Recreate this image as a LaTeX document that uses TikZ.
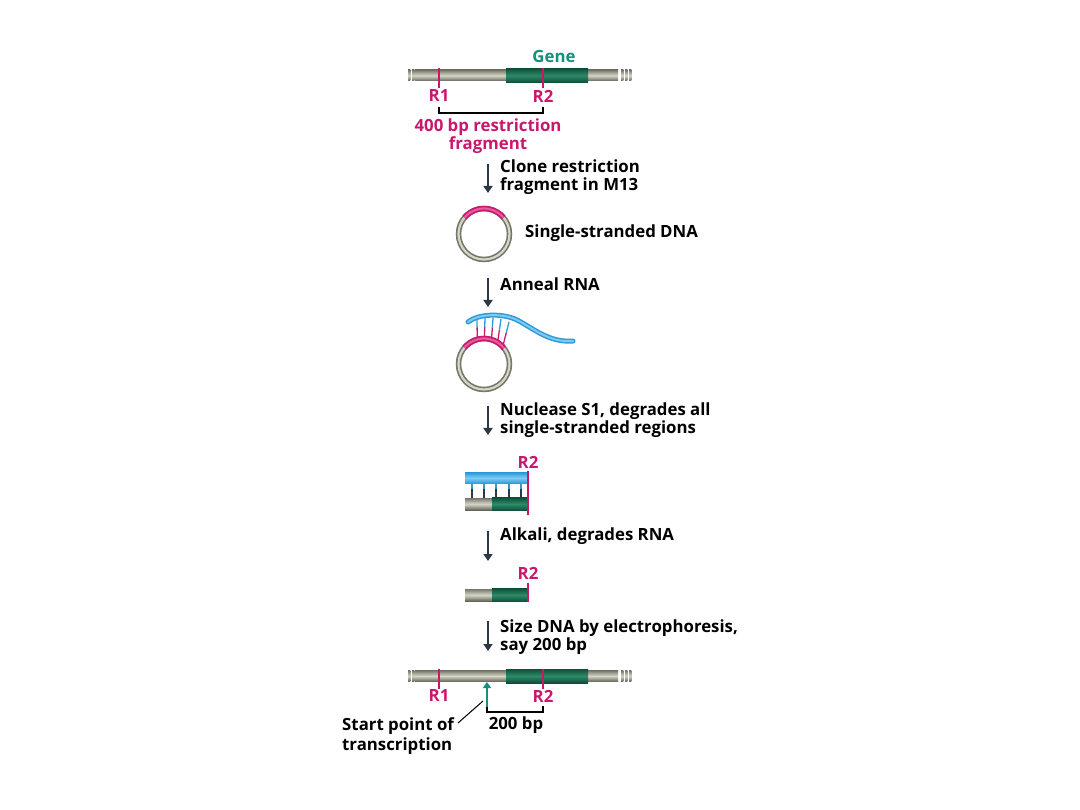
\documentclass[tikz,border=0pt]{standalone}
\usepackage{fontspec}
\setmainfont{Open Sans}
\usetikzlibrary{arrows.meta,calc}

\definecolor{site}{HTML}{C8186E}
\definecolor{sitelt}{HTML}{E45A9C}
\definecolor{genetxt}{HTML}{13917A}
\definecolor{genedk}{HTML}{0E4F3A}
\definecolor{genemd}{HTML}{2E8A68}
\definecolor{dnadk}{HTML}{76766A}
\definecolor{dnalt}{HTML}{D6D6C8}
\definecolor{rnadk}{HTML}{2E9AD8}
\definecolor{rnalt}{HTML}{7CCBF2}
\definecolor{arrowc}{HTML}{2B3845}

\begin{document}
\begin{tikzpicture}[
  x=1pt, y=-1pt,
  lab/.style={font=\bfseries\fontsize{16.8}{18}\selectfont, inner sep=0pt},
  note/.style={lab, anchor=west, align=left},
  sitelab/.style={lab, text=site},
  dna/.style={top color=dnadk, bottom color=dnadk!85!black, middle color=dnalt, shading angle=0},
  gene/.style={top color=genedk, bottom color=genedk, middle color=genemd},
  rna/.style={top color=rnadk, bottom color=rnadk, middle color=rnalt},
  cut/.style={draw=site, line width=1.3pt},
  brace/.style={draw=black, line width=1.4pt},
  flow/.style={draw=arrowc, line width=2.8pt, -{Triangle[length=7pt,width=9pt]}},
  bond/.style={line width=1.3pt}
]
\useasboundingbox (0,0) rectangle (1080,810);

% ---- gene map (top)
\foreach \xa in {408,412} \fill[dna] (\xa,70) rectangle ++(2.4,11);
\foreach \xa in {621,625,629} \fill[dna] (\xa,70) rectangle ++(2.4,11);
\fill[dna] (415,70) rectangle (618,81);
\fill[gene] (506,68.5) rectangle (588,82.5);
\draw[cut] (439,68) -- (439,88);
\draw[cut] (543,68) -- (543,88);
\node[lab, text=genetxt] (gene) at (554,57) {Gene};
\node[sitelab] (r1top) at (439,96) {R1};
\node[sitelab] (r2top) at (543,96) {R2};
\draw[brace] (439,107) -- (439,113) -- (543,113) -- (543,107);
\node[sitelab, align=center] (frag) at (488,136) {400 bp restriction\\fragment};

% ---- step 1
\coordinate (s1a) at (488,164);
\coordinate (s1b) at (488,193);
\draw[flow] (s1a) -- (s1b);
\node[note] (clone) at (500,177) {Clone restriction\\fragment in M13};

% single-stranded circle
\coordinate (c1) at (484,234);
\draw[dnadk, line width=5.5pt] (c1) circle (25.5);
\draw[dnalt, line width=2.2pt] (c1) circle (25.5);
\draw[site, line width=5.5pt] ([shift={(-140:25.5)}]c1) arc[start angle=-140, end angle=-40, radius=25.5];
\draw[sitelt, line width=2.2pt] ([shift={(-140:25.5)}]c1) arc[start angle=-140, end angle=-40, radius=25.5];
\node[note] (ssdna) at (525,233) {Single-stranded DNA};

% ---- step 2
\coordinate (s2a) at (488,278);
\coordinate (s2b) at (488,307);
\draw[flow] (s2a) -- (s2b);
\node[note] (anneal) at (500,284) {Anneal RNA};

% annealed circle
\coordinate (c2) at (484,364);
\draw[dnadk, line width=5.5pt] (c2) circle (25.5);
\draw[dnalt, line width=2.2pt] (c2) circle (25.5);
\draw[site, line width=5.5pt] ([shift={(-140:25.5)}]c2) arc[start angle=-140, end angle=-38, radius=25.5];
\draw[sitelt, line width=2.2pt] ([shift={(-140:25.5)}]c2) arc[start angle=-140, end angle=-38, radius=25.5];
\foreach \ang/\xt/\yt in {-104/477/319, -89/485/318, -74/493/318, -60/501/319, -46/509/322} {
  \coordinate (lo) at ($(c2)+(\ang:28)$);
  \coordinate (hi) at (\xt,\yt);
  \draw[site, bond] (lo) -- ($(lo)!0.5!(hi)$);
  \draw[rnadk, bond] ($(lo)!0.5!(hi)$) -- (hi);
}
\draw[rnadk, line width=5pt, line cap=round]
  (468,322) .. controls (478,314) and (500,313) .. (515,319)
  .. controls (532,327) and (548,343) .. (573,341);
\draw[rnalt, line width=2pt, line cap=round]
  (468,322) .. controls (478,314) and (500,313) .. (515,319)
  .. controls (532,327) and (548,343) .. (573,341);

% ---- step 3
\coordinate (s3a) at (488,406);
\coordinate (s3b) at (488,435);
\draw[flow] (s3a) -- (s3b);
\node[note] (nuclease) at (500,420) {Nuclease S1, degrades all\\single-stranded regions};

% hybrid
\fill[rna] (465,472.5) rectangle (528,483.5);
\foreach \xt in {472,484,496,509,521} {
  \draw[arrowc, bond] (\xt,483) -- (\xt,498);
  \draw[rnadk, bond] (\xt,483) -- (\xt,489);
}
\fill[dna] (465,498) rectangle (493,510);
\fill[gene] (492,497.5) rectangle (528,510.5);
\draw[cut] (528,471) -- (528,515);
\node[sitelab] (r2hyb) at (528,462) {R2};

% ---- step 4
\coordinate (s4a) at (488,531);
\coordinate (s4b) at (488,561);
\draw[flow] (s4a) -- (s4b);
\node[note] (alkali) at (500,536) {Alkali, degrades RNA};

% protected DNA
\fill[dna] (465,589) rectangle (493,601);
\fill[gene] (492,588.5) rectangle (528,601.5);
\draw[cut] (528,583) -- (528,602);
\node[sitelab] (r2dna) at (528,573) {R2};

% ---- step 5
\coordinate (s5a) at (488,621);
\coordinate (s5b) at (488,651);
\draw[flow] (s5a) -- (s5b);
\node[note] (size) at (500,637) {Size DNA by electrophoresis,\\say 200 bp};

% ---- gene map (bottom)
\foreach \xa in {408,412} \fill[dna] (\xa,670.5) rectangle ++(2.4,11);
\foreach \xa in {621,625,629} \fill[dna] (\xa,670.5) rectangle ++(2.4,11);
\fill[dna] (415,670.5) rectangle (618,681.5);
\fill[gene] (506,669) rectangle (588,683);
\draw[cut] (439,669) -- (439,689);
\draw[cut] (543,669) -- (543,689);
\node[sitelab] (r1bot) at (439,696) {R1};
\node[sitelab] (r2bot) at (543,696) {R2};
\coordinate (tss) at (487,682);
\coordinate (tssb) at (487,708);
\draw[genetxt, line width=2.8pt, -{Triangle[length=6pt,width=8pt]}] (tssb) -- (tss);
\draw[brace] (487,707) -- (487,712) -- (543,712) -- (543,706);
\node[lab] (bp200) at (516,725) {200 bp};
\node[note, font=\bfseries\fontsize{16.8}{20}\selectfont] (start) at (342,736) {Start point of\\transcription};
\draw[black, line width=1pt] (458,723) -- (483,701);
\end{tikzpicture}
\end{document}
